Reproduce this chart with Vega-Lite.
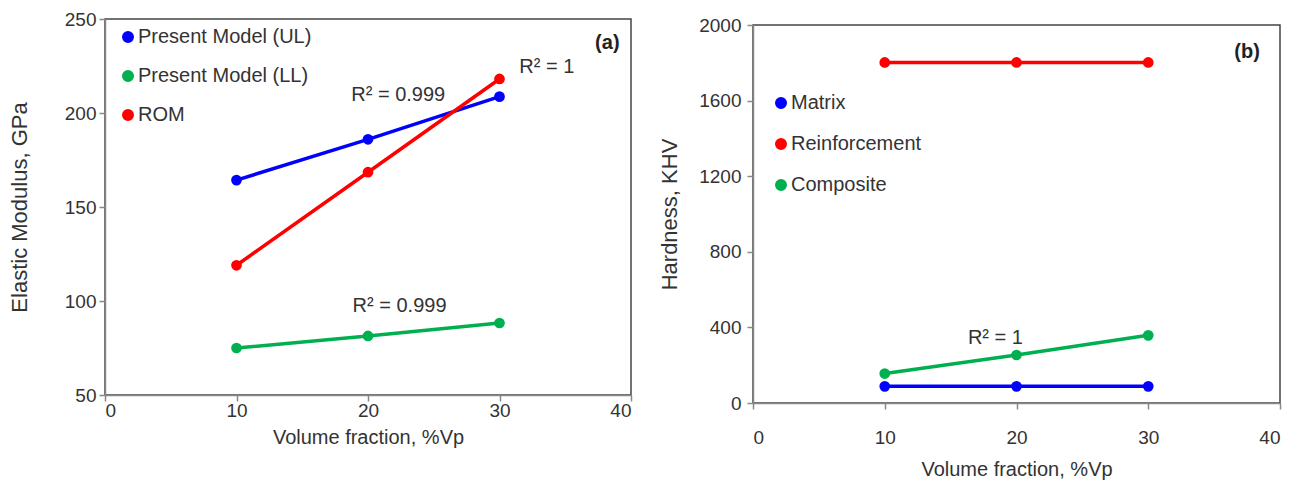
{
  "$schema": "https://vega.github.io/schema/vega-lite/v6.json",
  "padding": {"left": 7, "top": 9, "right": 0, "bottom": 0},
  "background": "white",
  "config": {
    "font": "Liberation Sans",
    "view": {"stroke": "#444", "strokeWidth": 1.5},
    "axis": {
      "grid": false,
      "domainColor": "#888",
      "domainWidth": 1.5,
      "tickColor": "#888",
      "tickWidth": 1.5,
      "tickSize": 6,
      "labelFontSize": 19,
      "labelColor": "#333",
      "labelFont": "Liberation Sans",
      "titleFontSize": 20,
      "titleFontWeight": "normal",
      "titleColor": "#333",
      "titleFont": "Liberation Sans"
    },
    "legend": {
      "title": null,
      "orient": "none",
      "symbolType": "circle",
      "symbolSize": 110,
      "labelFontSize": 20,
      "labelLimit": 400,
      "labelColor": "#333",
      "labelFont": "Liberation Sans",
      "labelOffset": 0,
      "padding": 0
    }
  },
  "spacing": 122,
  "bounds": "flush",
  "hconcat": [
    {
      "width": 526,
      "height": 376,
      "data": {
        "values": [
          {"series": "Present Model (UL)", "vf": 10, "val": 164.3},
          {"series": "Present Model (UL)", "vf": 20, "val": 186.0},
          {"series": "Present Model (UL)", "vf": 30, "val": 208.7},
          {"series": "Present Model (LL)", "vf": 10, "val": 75.0},
          {"series": "Present Model (LL)", "vf": 20, "val": 81.4},
          {"series": "Present Model (LL)", "vf": 30, "val": 88.3},
          {"series": "ROM", "vf": 10, "val": 119.0},
          {"series": "ROM", "vf": 20, "val": 168.5},
          {"series": "ROM", "vf": 30, "val": 218.1}
        ]
      },
      "layer": [
        {
          "mark": {"type": "point", "filled": true, "size": 115, "opacity": 1},
          "encoding": {
            "x": {"field": "vf", "type": "quantitative", "scale": {"domain": [0, 40], "nice": false},
                  "axis": {"title": "Volume fraction, %Vp", "values": [0, 10, 20, 30, 40], "labelPadding": 0, "titlePadding": 7}},
            "y": {"field": "val", "type": "quantitative", "scale": {"domain": [50, 250], "nice": false, "zero": false},
                  "axis": {"title": "Elastic Modulus, GPa", "titleFontSize": 22, "values": [50, 100, 150, 200, 250], "format": "d", "labelPadding": 3, "titlePadding": 33}},
            "color": {"field": "series", "type": "nominal",
                      "scale": {"domain": ["Present Model (UL)", "Present Model (LL)", "ROM"], "range": ["#0000ff", "#00b050", "#ff0000"]},
                      "legend": {"legendX": 13, "legendY": 8, "rowPadding": 19}}
          }
        },
        {
          "mark": {"type": "line", "strokeWidth": 3.5},
          "encoding": {
            "x": {"field": "vf", "type": "quantitative"},
            "y": {"field": "val", "type": "quantitative"},
            "color": {"field": "series", "type": "nominal"}
          }
        },
        {
          "data": {"values": [
            {"vf": 22.3, "val": 209.6, "label": "R² = 0.999"},
            {"vf": 33.6, "val": 224.5, "label": "R² = 1"},
            {"vf": 22.4, "val": 97.5, "label": "R² = 0.999"}
          ]},
          "mark": {"type": "text", "fontSize": 20, "color": "#333", "align": "center", "baseline": "middle"},
          "encoding": {
            "x": {"field": "vf", "type": "quantitative"},
            "y": {"field": "val", "type": "quantitative"},
            "text": {"field": "label"}
          }
        },
        {
          "data": {"values": [{"vf": 38.2, "val": 237.2, "label": "(a)"}]},
          "mark": {"type": "text", "fontSize": 20, "fontWeight": "bold", "color": "#222", "align": "center", "baseline": "middle"},
          "encoding": {
            "x": {"field": "vf", "type": "quantitative"},
            "y": {"field": "val", "type": "quantitative"},
            "text": {"field": "label"}
          }
        }
      ]
    },
    {
      "spacing": 0,
      "bounds": "flush",
      "vconcat": [
        {
          "width": 527,
          "height": 6,
          "view": {"stroke": null},
          "data": {"values": []},
          "mark": {"type": "point", "opacity": 0}
        },
        {
          "width": 527,
          "height": 378,
          "data": {
            "values": [
              {"series": "Matrix", "vf": 10, "val": 88},
              {"series": "Matrix", "vf": 20, "val": 88},
              {"series": "Matrix", "vf": 30, "val": 88},
              {"series": "Reinforcement", "vf": 10, "val": 1802},
              {"series": "Reinforcement", "vf": 20, "val": 1802},
              {"series": "Reinforcement", "vf": 30, "val": 1802},
              {"series": "Composite", "vf": 10, "val": 156},
              {"series": "Composite", "vf": 20, "val": 254},
              {"series": "Composite", "vf": 30, "val": 358}
            ]
          },
          "layer": [
            {
              "mark": {"type": "point", "filled": true, "size": 115, "opacity": 1},
              "encoding": {
                "x": {"field": "vf", "type": "quantitative", "scale": {"domain": [0, 40], "nice": false},
                      "axis": {"title": "Volume fraction, %Vp", "values": [0, 10, 20, 30, 40], "labelPadding": 19, "titlePadding": 12}},
                "y": {"field": "val", "type": "quantitative", "scale": {"domain": [0, 2000], "nice": false},
                      "axis": {"title": "Hardness, KHV", "titleFontSize": 22, "values": [0, 400, 800, 1200, 1600, 2000], "format": "d", "labelPadding": 6, "titlePadding": 17}},
                "color": {"field": "series", "type": "nominal",
                          "scale": {"domain": ["Matrix", "Reinforcement", "Composite"], "range": ["#0000ff", "#ff0000", "#00b050"]},
                          "legend": {"legendX": 18, "legendY": 74, "rowPadding": 21}}
              }
            },
            {
              "mark": {"type": "line", "strokeWidth": 3.5},
              "encoding": {
                "x": {"field": "vf", "type": "quantitative"},
                "y": {"field": "val", "type": "quantitative"},
                "color": {"field": "series", "type": "nominal"}
              }
            },
            {
              "data": {"values": [{"vf": 18.4, "val": 344, "label": "R² = 1"}]},
              "mark": {"type": "text", "fontSize": 20, "color": "#333", "align": "center", "baseline": "middle"},
              "encoding": {
                "x": {"field": "vf", "type": "quantitative"},
                "y": {"field": "val", "type": "quantitative"},
                "text": {"field": "label"}
              }
            },
            {
              "data": {"values": [{"vf": 37.5, "val": 1855, "label": "(b)"}]},
              "mark": {"type": "text", "fontSize": 20, "fontWeight": "bold", "color": "#222", "align": "center", "baseline": "middle"},
              "encoding": {
                "x": {"field": "vf", "type": "quantitative"},
                "y": {"field": "val", "type": "quantitative"},
                "text": {"field": "label"}
              }
            }
          ]
        }
      ]
    }
  ],
  "resolve": {"scale": {"color": "independent", "x": "independent", "y": "independent"}}
}
